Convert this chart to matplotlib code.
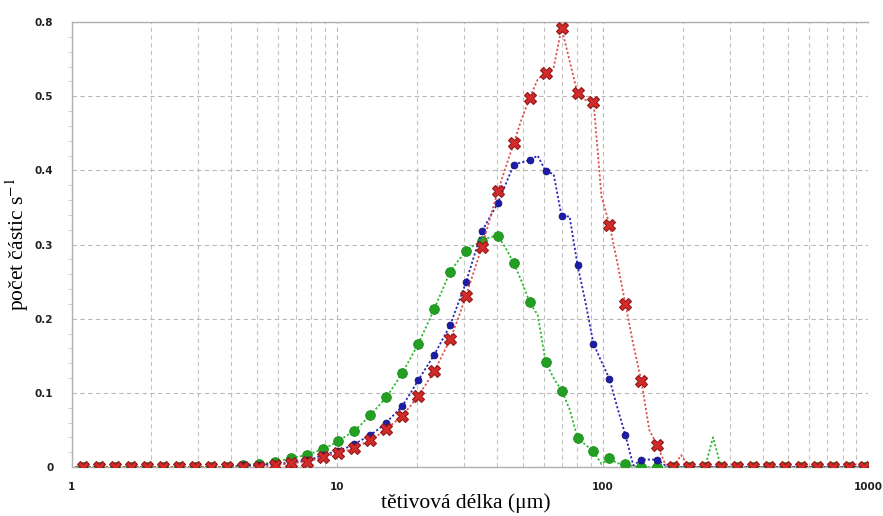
import numpy as np
import matplotlib
matplotlib.use("Agg")
import matplotlib.pyplot as plt
from matplotlib.ticker import FixedLocator, NullFormatter, FixedFormatter

# chord-length channels (100 log-spaced channel centres between 1 and 1000 um)
chord_um = np.logspace(0.015, 2.985, 100)

# number of particles per second (markers are shown on every second channel)
green = [0, 0, 0, 0, 0, 0, 0, 0, 0, 0,
         0, 0, 0, 0, 0, 0, 0, 0, 0, 0,
         0.001, 0.003, 0.0035, 0.004, 0.005, 0.007, 0.009, 0.012, 0.014, 0.016,
         0.020, 0.024, 0.029, 0.035, 0.042, 0.049, 0.059, 0.070, 0.082, 0.094,
         0.110, 0.127, 0.146, 0.166, 0.189, 0.213, 0.238, 0.263, 0.278, 0.291,
         0.299, 0.305, 0.310, 0.312, 0.295, 0.275, 0.250, 0.222, 0.205, 0.141,
         0.120, 0.103, 0.078, 0.039, 0.030, 0.021, 0.004, 0.012, 0.005, 0.004,
         0.001, 0, 0, 0, 0, 0, 0, 0, 0, 0,
         0.040, 0, 0, 0, 0, 0, 0, 0, 0, 0,
         0, 0, 0, 0, 0, 0, 0, 0, 0, 0]

blue = [0, 0, 0, 0, 0, 0, 0, 0, 0, 0,
        0, 0, 0, 0, 0, 0, 0, 0, 0, 0,
        0.001, 0.002, 0.0025, 0.003, 0.0035, 0.004, 0.005, 0.006, 0.0075, 0.009,
        0.012, 0.016, 0.019, 0.022, 0.026, 0.031, 0.037, 0.043, 0.051, 0.060,
        0.071, 0.082, 0.099, 0.117, 0.134, 0.151, 0.171, 0.191, 0.220, 0.249,
        0.284, 0.318, 0.337, 0.356, 0.382, 0.408, 0.411, 0.414, 0.420, 0.399,
        0.395, 0.338, 0.338, 0.272, 0.222, 0.166, 0.142, 0.119, 0.080, 0.043,
        0.002, 0.010, 0.010, 0.010, 0.002, 0, 0, 0, 0, 0,
        0, 0, 0, 0, 0, 0, 0, 0, 0, 0,
        0, 0, 0, 0, 0, 0, 0, 0, 0, 0]

red = [0, 0, 0, 0, 0, 0, 0, 0, 0, 0,
       0, 0, 0, 0, 0, 0, 0, 0, 0, 0,
       0, 0, 0, 0, 0.001, 0.002, 0.0035, 0.005, 0.006, 0.007,
       0.010, 0.013, 0.016, 0.0185, 0.022, 0.026, 0.031, 0.036, 0.043, 0.051,
       0.060, 0.069, 0.082, 0.096, 0.112, 0.129, 0.150, 0.172, 0.200, 0.231,
       0.264, 0.297, 0.335, 0.372, 0.405, 0.437, 0.470, 0.498, 0.523, 0.532,
       0.539, 0.592, 0.548, 0.504, 0.495, 0.493, 0.365, 0.327, 0.275, 0.220,
       0.165, 0.116, 0.050, 0.029, 0.004, 0, 0.016, 0, 0, 0,
       0, 0, 0, 0, 0, 0, 0, 0, 0, 0,
       0, 0, 0, 0, 0, 0, 0, 0, 0, 0]

y_ticks = [0, 0.1, 0.2, 0.3, 0.4, 0.5, 0.6]
y_tick_labels = ["0", "0.1", "0.2", "0.3", "0.4", "0.5", "0.8"]
x_ticks = [1, 10, 100, 1000]
x_tick_labels = ["1", "10", "100", "1000"]

plt.rcParams['mathtext.fontset'] = 'stix'

fig = plt.figure(figsize=(8.83, 5.16), dpi=100)
ax = fig.add_axes([0.081, 0.095, 0.9025, 0.862])

ax.set_xscale('log')
ax.set_xlim(1, 1000)
ax.set_ylim(0, 0.6)

mark = slice(1, None, 2)
ax.plot(chord_um, green, linestyle=(0, (1.2, 1.2)), color='#2eb82e', linewidth=1.3,
        marker='o', markevery=mark, markersize=7, markerfacecolor='#22a022',
        markeredgecolor='#1e8c1e', markeredgewidth=0.6, zorder=3)
ax.plot(chord_um, blue, linestyle=(0, (1.2, 1.2)), color='#2626b8', linewidth=1.3,
        marker='o', markevery=mark, markersize=5, markerfacecolor='#1c1ca8',
        markeredgecolor='#101070', markeredgewidth=0.5, zorder=4)
ax.plot(chord_um, red, linestyle=(0, (1.2, 1.2)), color='#e05050', linewidth=1.3,
        marker='X', markevery=mark, markersize=9, markerfacecolor='#d42a2a',
        markeredgecolor='#8e1a1a', markeredgewidth=0.8, zorder=5)

# grid
ax.xaxis.set_major_locator(FixedLocator(x_ticks))
ax.xaxis.set_major_formatter(FixedFormatter(x_tick_labels))
ax.xaxis.set_minor_locator(FixedLocator([m * 10 ** d for d in range(3) for m in range(2, 10)]))
ax.xaxis.set_minor_formatter(NullFormatter())
ax.yaxis.set_major_locator(FixedLocator(y_ticks))
ax.yaxis.set_major_formatter(FixedFormatter(y_tick_labels))
ax.yaxis.set_minor_locator(FixedLocator(np.arange(0, 0.6, 0.02)))

ax.grid(True, which='major', axis='both', color='#b8b8b8', linestyle=(0, (4, 3)), linewidth=0.8)
ax.grid(True, which='minor', axis='x', color='#c4c4c4', linestyle=(0, (4, 3)), linewidth=0.8)
ax.set_axisbelow(True)

for s in ['left', 'top', 'bottom', 'right']:
    ax.spines[s].set_color('#b0b0b0')
    ax.spines[s].set_linewidth(1.0)
ax.spines['right'].set_visible(False)

ax.tick_params(axis='both', which='major', length=0, labelsize=7.5, labelcolor='#202020')
ax.tick_params(axis='x', which='major', pad=11)
ax.tick_params(axis='y', which='major', pad=13)
ax.tick_params(axis='x', which='minor', length=0)
ax.tick_params(axis='y', which='minor', length=3, color='#c8c8c8', direction='out')
for lbl in ax.get_xticklabels() + ax.get_yticklabels():
    lbl.set_fontweight('bold')

ax.set_xlabel('tětivová délka (μm)', family='Liberation Serif', fontsize=15.5)
ax.xaxis.set_label_coords(0.495, -0.058)
ax.set_ylabel('počet částic s$^{-1}$', family='Liberation Serif', fontsize=15.5)
ax.yaxis.set_label_coords(-0.051, 0.5)

fig.savefig('out.png', dpi=100)
